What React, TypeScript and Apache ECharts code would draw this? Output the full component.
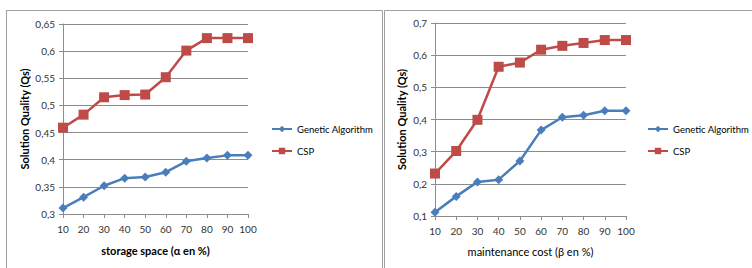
import React, { useEffect, useRef } from "react";
import * as echarts from "echarts";

const categories = ["10", "20", "30", "40", "50", "60", "70", "80", "90", "100"];
const leftGA = [0.311, 0.331, 0.352, 0.366, 0.368, 0.377, 0.397, 0.403, 0.408, 0.408];
const leftCSP = [0.459, 0.483, 0.515, 0.519, 0.52, 0.552, 0.601, 0.624, 0.624, 0.624];
const rightGA = [0.112, 0.161, 0.206, 0.213, 0.271, 0.367, 0.407, 0.413, 0.427, 0.427];
const rightCSP = [0.232, 0.302, 0.399, 0.564, 0.577, 0.617, 0.629, 0.638, 0.647, 0.647];
const seriesNames = ["Genetic Algorithm", "CSP"];
const yTitle = "Solution Quality (Qs)";
const leftXTitle = "storage space (α en %)";
const rightXTitle = "maintenance cost (β en %)";

const FONT = "Lato";
const BLUE = "#4A7EBB";
const RED = "#BE4B48";
const GRID = "#8c8c8c";

const fmt = (v: number) => String(Math.round(v * 100) / 100).replace(".", ",");

export default function App() {
  const ref = useRef<HTMLDivElement>(null);
  useEffect(() => {
    const chart = echarts.init(ref.current!, undefined, { renderer: "svg" });
    const xAxis = (gridIndex: number, name: string, bold: boolean, gap: number) => ({
      type: "category",
      gridIndex,
      data: categories,
      boundaryGap: false,
      name,
      nameLocation: "middle",
      nameGap: gap,
      nameTextStyle: { fontFamily: FONT, fontSize: 11, fontWeight: bold ? "bold" : "normal", color: "#000" },
      axisLine: { lineStyle: { color: GRID, width: 1 } },
      axisTick: { show: true, alignWithLabel: true, length: 4, lineStyle: { color: GRID } },
      axisLabel: { fontFamily: FONT, fontSize: 10, color: "#333", margin: 10, interval: 0 },
    });
    const yAxis = (gridIndex: number, min: number, max: number, interval: number, gap: number) => ({
      type: "value",
      gridIndex,
      min,
      max,
      interval,
      name: yTitle,
      nameLocation: "middle",
      nameGap: gap,
      nameTextStyle: { fontFamily: FONT, fontSize: 11, fontWeight: "bold", color: "#000" },
      axisLine: { show: true, lineStyle: { color: GRID, width: 1 } },
      axisTick: { show: true, length: 4, lineStyle: { color: GRID } },
      splitLine: { lineStyle: { color: GRID, width: 1 } },
      axisLabel: { fontFamily: FONT, fontSize: 10, color: "#333", margin: 8, formatter: fmt },
    });
    const line = (name: string, x: number, data: number[], color: string, symbol: string, size: number) => ({
      type: "line",
      name,
      xAxisIndex: x,
      yAxisIndex: x,
      data,
      symbol,
      symbolSize: size,
      lineStyle: { color, width: 2.5 },
      itemStyle: { color },
    });
    const legend = (left: number) => ({
      orient: "vertical",
      left,
      top: 124,
      padding: 0,
      itemWidth: 20,
      itemHeight: 8,
      itemGap: 12,
      data: seriesNames,
      textStyle: { fontFamily: FONT, fontSize: 9.5, color: "#000" },
    });
    chart.setOption({
      animation: false,
      grid: [
        { left: 63, top: 24, width: 185, height: 190 },
        { left: 435, top: 23, width: 191, height: 193 },
      ],
      xAxis: [xAxis(0, leftXTitle, true, 31), xAxis(1, rightXTitle, false, 30)],
      yAxis: [yAxis(0, 0.3, 0.65, 0.05, 33), yAxis(1, 0.1, 0.7, 0.1, 28)],
      legend: [legend(271), legend(647)],
      graphic: [
        { type: "rect", shape: { x: 6.5, y: 10.5, width: 376, height: 300 }, style: { fill: "none", stroke: "#a0a0a0", lineWidth: 1 } },
        { type: "rect", shape: { x: 384.5, y: 10.5, width: 400, height: 300 }, style: { fill: "none", stroke: "#a0a0a0", lineWidth: 1 } },
      ],
      series: [
        line(seriesNames[0], 0, leftGA, BLUE, "diamond", 9),
        line(seriesNames[1], 0, leftCSP, RED, "rect", 10),
        line(seriesNames[0], 1, rightGA, BLUE, "diamond", 9),
        line(seriesNames[1], 1, rightCSP, RED, "rect", 10),
      ],
    });
    return () => chart.dispose();
  }, []);
  return <div ref={ref} style={{ position: "absolute", left: 0, top: 0, width: 752, height: 268, background: "#fff" }} />;
}
